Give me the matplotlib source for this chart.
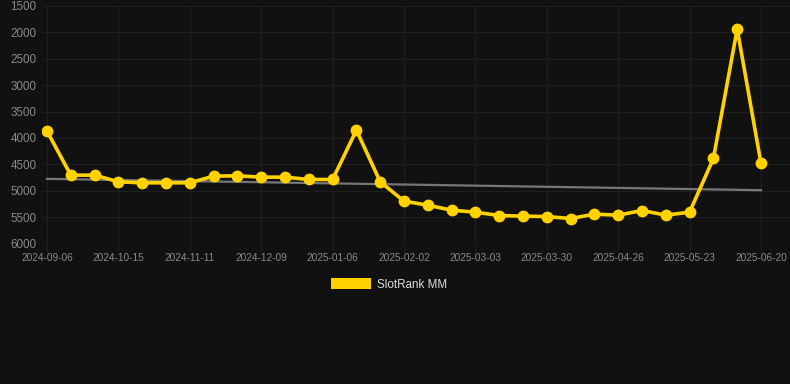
import matplotlib
matplotlib.use("Agg")
import matplotlib.pyplot as plt
from matplotlib.patches import Patch

# rank values (lower = better), y axis inverted
rank = [3870, 4705, 4705, 4831, 4850, 4850, 4850, 4724, 4717, 4743, 4743, 4787, 4787, 3851, 4831,
        5198, 5274, 5369, 5406, 5470, 5482, 5489, 5527, 5444, 5463, 5375, 5463, 5406, 4389, 1936, 4484]
tick_labels = ['2024-09-06', '2024-10-15', '2024-11-11', '2024-12-09', '2025-01-06', '2025-02-02',
               '2025-03-03', '2025-03-30', '2025-04-26', '2025-05-23', '2025-06-20']
trend = [4775, 4990]   # start / end value of grey trend line
y_ticks = [1500, 2000, 2500, 3000, 3500, 4000, 4500, 5000, 5500, 6000]

bg = '#111111'
plt.rcParams['font.family'] = ['Liberation Sans', 'DejaVu Sans']

fig = plt.figure(figsize=(7.9, 3.84), dpi=100, facecolor=bg)
ax = fig.add_axes([42/790, 1 - 243.5/384, 1 - 42/790, (243.5 - 6)/384])
ax.set_facecolor(bg)

x = list(range(len(rank)))
ax.plot([x[0], x[-1]], trend, color='#777777', lw=1.6, zorder=2)
ax.plot(x, rank, color='#FFD200', lw=2.6, marker='o', ms=7.5, zorder=3)

ax.set_xlim(-5/23.8, (790 - 47)/23.8)
ax.set_ylim(6000, 1500)
ax.set_yticks(y_ticks)
ax.set_xticks(x[::3])
ax.set_xticklabels(tick_labels)
ax.grid(True, color='#1f1f1f', lw=0.8)
ax.set_axisbelow(True)
for s in ax.spines.values():
    s.set_visible(False)
ax.tick_params(axis='y', length=0, pad=4, labelsize=8.4, labelcolor='#8a8a8a')
ax.tick_params(axis='x', length=6, color='#1f1f1f', pad=1, labelsize=7.3, labelcolor='#8a8a8a')

handle = Patch(facecolor='#FFD200', edgecolor='none')
leg = fig.legend([handle], ['SlotRank MM'], loc='center', bbox_to_anchor=(389/790, 1 - 284.5/384),
                 frameon=False, fontsize=8.4, labelcolor='#dddddd',
                 handlelength=3.5, handleheight=1.0, handletextpad=0.5)

fig.savefig('out.png', dpi=100, facecolor=bg)
